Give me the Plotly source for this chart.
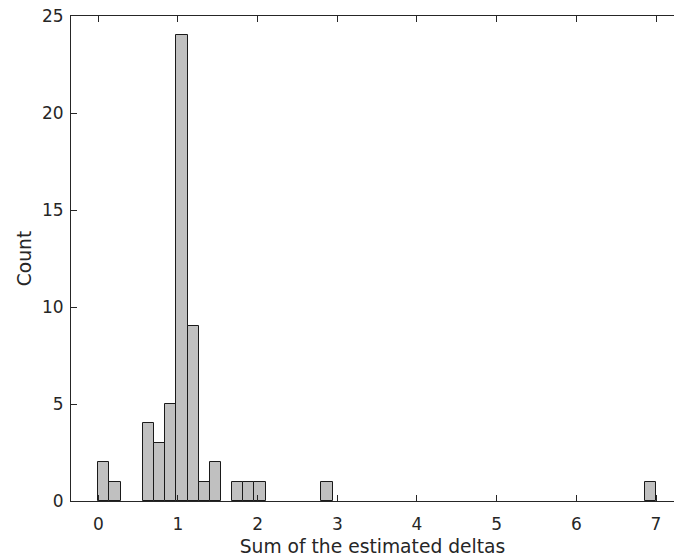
import plotly.graph_objects as go

bin_width = 0.14
bin_starts = [0.00, 0.14, 0.56, 0.70, 0.84, 0.98, 1.12, 1.26, 1.40, 1.68, 1.82, 1.96, 2.80, 6.86]
counts = [2, 1, 4, 3, 5, 24, 9, 1, 2, 1, 1, 1, 1, 1]
x_ticks = [0, 1, 2, 3, 4, 5, 6, 7]
y_ticks = [0, 5, 10, 15, 20, 25]

centers = [s + bin_width / 2 for s in bin_starts]

AX = "#262626"
fig = go.Figure()
fig.add_trace(go.Bar(
    x=centers, y=counts, width=[bin_width] * len(counts),
    marker=dict(color="#c0c0c0", line=dict(color="#1a1a1a", width=1)),
    showlegend=False,
))

axis_common = dict(
    showline=True, linecolor=AX, linewidth=1,
    ticks="inside", ticklen=6, tickcolor=AX, tickwidth=1,
    showgrid=False, zeroline=False, automargin=False,
    tickfont=dict(family="DejaVu Sans", size=17, color=AX),
)

fig.update_layout(
    width=674, height=558,
    margin=dict(l=71, r=0, t=16, b=57),
    paper_bgcolor="white", plot_bgcolor="white",
    bargap=0,
    xaxis=dict(range=[-0.343, 7.226], tickvals=x_ticks, mirror="ticks",
               ticklabelstandoff=8,
               title=dict(text="Sum of the estimated deltas", standoff=6,
                          font=dict(family="DejaVu Sans", size=18.7, color=AX)),
               **axis_common),
    yaxis=dict(range=[0, 25], tickvals=y_ticks, mirror=False,
               ticklabelstandoff=3,
               title=dict(text="Count", standoff=5,
                          font=dict(family="DejaVu Sans", size=18.7, color=AX)),
               **axis_common),
)

fig.write_html("out.html", config={"displayModeBar": False},
               post_script="document.body.style.margin='0';")
